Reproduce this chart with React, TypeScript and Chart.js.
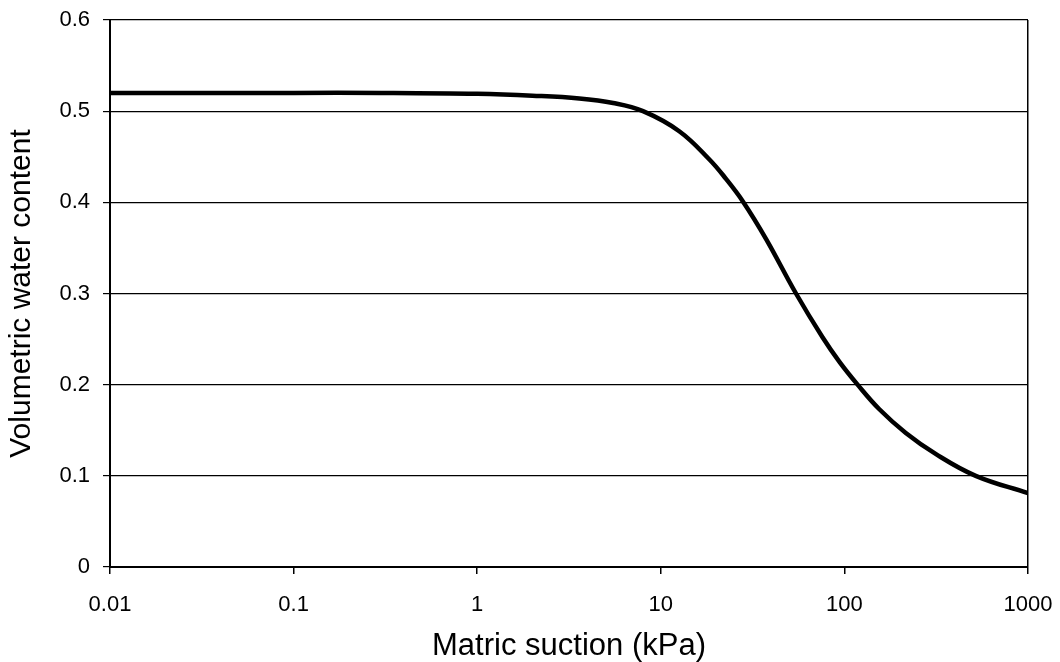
import React, { useEffect, useRef } from "react";
import { Chart, registerables } from "chart.js";

Chart.register(...registerables);

// Soil-water characteristic curve: matric suction (kPa) vs volumetric water content
const SUCTION_KPA = [
  0.01, 0.03, 0.1, 0.3, 1, 2, 3.6, 5.5, 8, 12.6, 18.4, 22.6, 28, 37.4, 54.5,
  76, 94, 118, 155, 216, 314, 519, 1000,
];
const WATER_CONTENT = [
  0.52, 0.52, 0.52, 0.52, 0.519, 0.517, 0.514, 0.509, 0.5, 0.478, 0.447, 0.426,
  0.401, 0.36, 0.3, 0.252, 0.225, 0.2, 0.173, 0.147, 0.124, 0.1, 0.081,
];

const X_TICKS = [0.01, 0.1, 1, 10, 100, 1000];
const X_TICK_LABELS = ["0.01", "0.1", "1", "10", "100", "1000"];
const Y_TICKS = [0, 0.1, 0.2, 0.3, 0.4, 0.5, 0.6];
const Y_TICK_LABELS = ["0", "0.1", "0.2", "0.3", "0.4", "0.5", "0.6"];

const X_TITLE = "Matric suction (kPa)";
const Y_TITLE = "Volumetric water content";

const FONT = "'Liberation Sans', Arial, Helvetica, sans-serif";

export default function App() {
  const canvasRef = useRef<HTMLCanvasElement | null>(null);

  useEffect(() => {
    document.body.style.margin = "0";
    const canvas = canvasRef.current;
    if (!canvas) return;

    const points = SUCTION_KPA.map((x, i) => ({ x, y: WATER_CONTENT[i] }));

    const chart = new Chart(canvas, {
      type: "line",
      data: {
        datasets: [
          {
            data: points,
            borderColor: "#000",
            borderWidth: 4.5,
            pointRadius: 0,
            fill: false,
            tension: 0.4,
          },
        ],
      },
      options: {
        animation: false,
        responsive: false,
        events: [],
        layout: { padding: { left: 0, right: 32, top: 20, bottom: 0 } },
        plugins: {
          legend: { display: false },
          tooltip: { enabled: false },
        },
        scales: {
          x: {
            type: "logarithmic",
            min: 0.01,
            max: 1000,
            afterBuildTicks: (scale: any) => {
              scale.ticks = X_TICKS.map((v) => ({ value: v, major: true }));
            },
            afterFit: (scale: any) => {
              scale.height = 95;
              scale.paddingLeft = 0;
              scale.paddingRight = 0;
            },
            ticks: {
              autoSkip: false,
              maxRotation: 0,
              padding: 18,
              color: "#000",
              font: { family: FONT, size: 22 },
              callback: (value: any) => {
                const i = X_TICKS.indexOf(Number(value));
                return i >= 0 ? X_TICK_LABELS[i] : "";
              },
            },
            grid: {
              drawOnChartArea: true,
              drawTicks: true,
              tickLength: 7,
              lineWidth: 1.5,
              color: (ctx: any) =>
                ctx.index === X_TICKS.length - 1 ? "#000" : "rgba(0,0,0,0)",
              tickColor: "#000",
            },
            border: { display: true, color: "#000", width: 2 },
            title: {
              display: true,
              text: X_TITLE,
              color: "#000",
              font: { family: FONT, size: 31, lineHeight: 1 },
              padding: { top: 0, bottom: 0 },
            },
          },
          y: {
            type: "linear",
            min: 0,
            max: 0.6,
            afterBuildTicks: (scale: any) => {
              scale.ticks = Y_TICKS.map((v) => ({ value: v }));
            },
            afterFit: (scale: any) => {
              scale.width = 110;
              scale.paddingTop = 0;
              scale.paddingBottom = 0;
            },
            ticks: {
              padding: 13,
              color: "#000",
              font: { family: FONT, size: 22 },
              callback: (value: any) => {
                const i = Y_TICKS.findIndex((t) => Math.abs(t - Number(value)) < 1e-9);
                return i >= 0 ? Y_TICK_LABELS[i] : "";
              },
            },
            grid: {
              drawOnChartArea: true,
              drawTicks: true,
              tickLength: 7,
              lineWidth: 1.2,
              color: "#000",
              tickColor: "#000",
            },
            border: { display: true, color: "#000", width: 2 },
            title: {
              display: true,
              text: Y_TITLE,
              color: "#000",
              font: { family: FONT, size: 30, lineHeight: 1 },
              padding: { top: 7, bottom: 0 },
            },
          },
        },
      },
    });

    return () => chart.destroy();
  }, []);

  return (
    <div style={{ width: 1060, height: 662, background: "#fff" }}>
      <canvas ref={canvasRef} width={1060} height={662} style={{ display: "block" }} />
    </div>
  );
}
